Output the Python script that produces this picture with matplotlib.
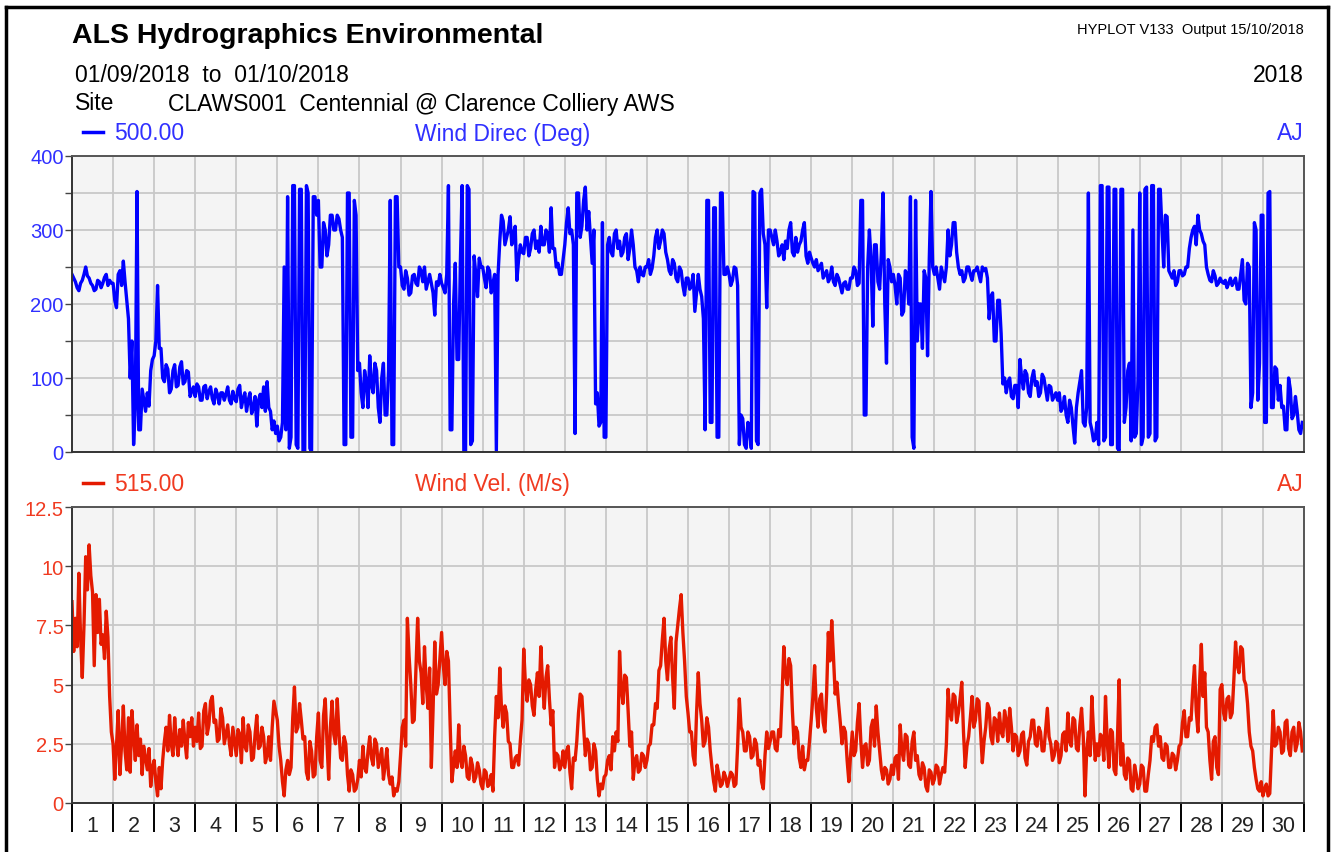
import numpy as np
import matplotlib
matplotlib.use('Agg')
import matplotlib.pyplot as plt
from matplotlib.lines import Line2D

plt.rcParams['font.family'] = ['Liberation Sans', 'DejaVu Sans']

# hourly readings, one row per day (01/09/2018 .. 30/09/2018)
wind_dir = [
    [240, 235, 230, 222, 218, 228, 232, 240, 250, 238, 235, 228, 225, 218, 220, 232, 230, 222, 228, 236, 240, 225, 232, 228],
    [228, 205, 195, 240, 245, 225, 258, 230, 205, 180, 100, 150, 10, 60, 352, 30, 30, 85, 70, 55, 80, 62, 110, 125],
    [130, 150, 225, 140, 140, 100, 95, 118, 112, 80, 85, 110, 118, 88, 90, 115, 122, 92, 95, 110, 108, 75, 82, 88],
    [75, 92, 88, 70, 70, 88, 90, 72, 82, 88, 72, 65, 85, 78, 65, 80, 80, 70, 78, 88, 70, 65, 82, 72],
    [68, 85, 90, 60, 72, 80, 55, 70, 80, 52, 60, 75, 35, 70, 78, 60, 88, 55, 95, 60, 55, 30, 42, 25],
    [35, 15, 20, 40, 250, 30, 345, 5, 20, 360, 360, 10, 5, 355, 355, 0, 0, 360, 350, 5, 0, 345, 345, 320],
    [340, 250, 250, 310, 300, 265, 280, 320, 320, 300, 300, 320, 315, 300, 290, 10, 10, 350, 350, 20, 20, 340, 320, 110],
    [120, 80, 60, 110, 95, 60, 130, 90, 80, 120, 110, 60, 40, 100, 120, 50, 50, 110, 340, 10, 10, 345, 345, 250],
    [250, 225, 220, 245, 235, 212, 215, 238, 240, 228, 225, 250, 245, 230, 250, 220, 230, 240, 228, 215, 185, 230, 225, 240],
    [228, 222, 215, 240, 360, 30, 30, 200, 255, 125, 125, 260, 360, 0, 0, 360, 355, 10, 15, 265, 240, 210, 262, 250],
    [250, 235, 222, 250, 245, 215, 228, 240, 2, 240, 285, 320, 312, 280, 290, 300, 318, 280, 295, 305, 232, 260, 280, 270],
    [268, 290, 290, 265, 275, 295, 300, 275, 285, 270, 305, 280, 280, 300, 295, 270, 330, 275, 275, 250, 255, 240, 240, 260],
    [280, 310, 330, 295, 300, 280, 25, 350, 350, 290, 305, 340, 358, 300, 325, 290, 255, 300, 65, 80, 35, 40, 310, 20],
    [20, 280, 290, 270, 265, 295, 300, 275, 285, 265, 270, 290, 295, 260, 275, 300, 280, 250, 245, 230, 250, 240, 238, 250],
    [250, 260, 240, 248, 265, 290, 300, 275, 285, 300, 295, 270, 260, 245, 240, 260, 255, 235, 230, 250, 245, 225, 212, 235],
    [235, 220, 225, 240, 190, 215, 240, 220, 210, 180, 30, 340, 340, 40, 40, 330, 330, 20, 20, 350, 350, 240, 240, 250],
    [240, 225, 232, 250, 248, 225, 10, 50, 45, 10, 5, 40, 30, 5, 352, 350, 15, 10, 350, 355, 295, 280, 195, 300],
    [300, 290, 280, 300, 285, 265, 270, 280, 260, 285, 275, 300, 310, 270, 265, 290, 270, 280, 285, 300, 310, 265, 255, 270],
    [262, 255, 250, 260, 245, 250, 255, 235, 240, 245, 230, 235, 250, 230, 225, 240, 235, 225, 215, 228, 230, 220, 220, 235],
    [235, 250, 245, 225, 228, 340, 340, 50, 50, 250, 300, 260, 170, 280, 280, 230, 220, 270, 350, 200, 120, 260, 250, 230],
    [240, 225, 200, 240, 235, 185, 190, 245, 240, 200, 345, 20, 5, 340, 150, 200, 200, 140, 245, 235, 130, 260, 352, 250],
    [240, 250, 235, 220, 250, 240, 230, 250, 300, 265, 280, 310, 310, 270, 250, 240, 245, 230, 235, 250, 250, 240, 232, 245],
    [245, 250, 240, 230, 250, 245, 248, 235, 180, 210, 215, 150, 150, 205, 205, 160, 92, 100, 80, 95, 100, 75, 72, 90],
    [90, 60, 125, 100, 85, 110, 105, 80, 75, 100, 110, 90, 95, 75, 80, 105, 100, 85, 70, 90, 88, 70, 75, 80],
    [70, 80, 55, 60, 75, 50, 40, 70, 60, 35, 12, 60, 80, 95, 110, 40, 35, 60, 350, 40, 30, 15, 18, 40],
    [10, 360, 360, 15, 20, 358, 358, 10, 10, 355, 355, 5, 2, 355, 355, 40, 60, 110, 120, 15, 300, 20, 25, 100],
    [350, 10, 20, 355, 358, 20, 25, 360, 360, 15, 20, 355, 355, 300, 250, 320, 318, 245, 240, 235, 245, 225, 230, 245],
    [245, 238, 240, 250, 250, 275, 290, 300, 305, 280, 320, 300, 295, 285, 280, 250, 240, 232, 230, 245, 238, 225, 228, 235],
    [230, 228, 232, 222, 228, 235, 225, 230, 235, 220, 220, 240, 260, 205, 200, 255, 250, 60, 80, 310, 300, 70, 120, 320],
    [320, 40, 40, 350, 352, 60, 60, 115, 112, 70, 90, 60, 62, 30, 30, 100, 85, 45, 50, 75, 55, 30, 25, 40],
]

wind_vel = [
    [8.5, 6.4, 7.8, 6.6, 9.7, 7.0, 5.3, 7.5, 10.4, 9.0, 10.9, 9.6, 8.9, 5.8, 8.8, 7.2, 8.6, 6.7, 7.1, 6.1, 8.1, 7.0, 4.5, 3.0],
    [2.5, 1.0, 2.4, 3.9, 1.2, 2.5, 4.1, 2.2, 1.4, 3.6, 1.3, 3.9, 2.8, 1.8, 3.3, 2.0, 2.7, 1.2, 2.4, 1.9, 1.4, 2.3, 0.7, 1.5],
    [1.8, 0.9, 0.3, 1.5, 0.6, 1.8, 2.6, 3.2, 2.2, 3.7, 2.5, 2.0, 3.6, 2.6, 2.0, 3.1, 2.4, 3.5, 2.6, 1.9, 3.4, 2.8, 3.6, 2.4],
    [3.2, 2.6, 3.8, 2.3, 2.4, 3.9, 4.2, 2.9, 3.3, 4.3, 4.5, 3.4, 3.5, 2.6, 2.7, 4.0, 3.6, 2.5, 2.9, 3.3, 2.5, 2.0, 3.2, 2.6],
    [2.0, 3.1, 2.9, 1.7, 3.6, 2.4, 2.2, 3.3, 3.0, 1.8, 1.9, 2.9, 3.7, 2.3, 2.4, 3.2, 2.8, 1.7, 2.0, 2.8, 1.8, 3.2, 4.3, 3.9],
    [3.5, 2.4, 1.8, 0.9, 0.3, 1.4, 1.8, 1.2, 1.5, 3.6, 4.9, 3.0, 3.2, 4.2, 3.5, 2.7, 2.8, 1.3, 1.0, 2.6, 2.2, 1.1, 1.2, 2.8],
    [3.8, 1.8, 1.5, 3.7, 4.4, 2.6, 1.0, 3.2, 4.3, 2.9, 2.5, 4.4, 3.0, 1.9, 1.8, 2.8, 2.5, 1.2, 0.5, 1.4, 1.2, 0.5, 0.6, 1.0],
    [1.8, 1.1, 2.4, 1.5, 1.3, 2.2, 2.8, 1.9, 1.6, 2.7, 2.5, 1.5, 1.9, 2.3, 1.0, 1.6, 2.3, 1.2, 0.8, 1.1, 0.3, 0.6, 0.5, 0.9],
    [2.0, 3.2, 3.5, 2.4, 7.8, 6.2, 5.0, 3.4, 3.5, 5.6, 7.8, 6.0, 5.5, 4.2, 6.6, 5.0, 4.0, 5.7, 1.5, 3.9, 6.8, 4.6, 5.0, 6.1],
    [7.2, 5.8, 5.0, 6.4, 6.0, 3.3, 0.9, 1.6, 2.2, 1.5, 3.3, 1.8, 1.5, 2.4, 2.0, 1.1, 1.0, 1.9, 1.6, 0.9, 1.1, 1.7, 1.4, 0.8],
    [0.6, 1.4, 1.3, 0.7, 0.8, 1.2, 0.5, 2.8, 4.5, 3.6, 5.7, 4.0, 3.2, 4.1, 3.8, 2.6, 2.5, 1.5, 1.5, 1.9, 2.0, 1.6, 2.6, 3.5],
    [6.5, 5.0, 4.3, 5.2, 5.0, 4.1, 3.7, 4.8, 5.5, 4.5, 6.6, 5.0, 4.0, 5.3, 5.8, 4.4, 3.3, 3.9, 1.5, 2.1, 2.0, 1.4, 1.6, 2.2],
    [1.5, 2.2, 2.4, 1.3, 0.6, 1.9, 1.8, 2.6, 3.8, 4.6, 4.5, 3.2, 2.0, 2.7, 2.5, 1.4, 1.5, 2.5, 2.2, 1.0, 0.3, 0.8, 0.6, 1.1],
    [1.2, 1.8, 2.0, 1.4, 2.8, 2.2, 3.0, 2.6, 6.4, 4.8, 4.2, 5.4, 5.3, 3.9, 2.4, 3.0, 1.0, 1.8, 2.0, 1.3, 1.4, 2.1, 2.0, 1.5],
    [1.8, 2.4, 2.5, 3.3, 3.3, 4.2, 4.0, 5.6, 5.8, 6.9, 7.8, 6.0, 5.2, 6.5, 7.0, 5.3, 4.0, 6.8, 7.5, 8.2, 8.8, 7.2, 6.0, 4.5],
    [3.8, 3.0, 3.0, 2.0, 1.6, 3.8, 5.5, 4.2, 3.5, 2.4, 2.6, 3.6, 3.2, 2.2, 1.5, 0.9, 0.5, 1.6, 1.2, 0.7, 0.8, 1.3, 1.1, 0.7],
    [1.0, 1.3, 1.2, 0.7, 0.8, 2.4, 4.4, 3.2, 3.0, 2.2, 2.2, 3.0, 2.8, 1.9, 2.0, 2.7, 2.5, 1.6, 1.8, 0.9, 0.6, 2.0, 3.0, 2.3],
    [2.6, 3.0, 3.0, 2.3, 2.2, 3.1, 2.8, 4.6, 6.6, 5.4, 5.0, 6.1, 5.8, 3.9, 2.5, 3.2, 3.0, 1.9, 1.5, 2.4, 1.4, 1.8, 1.8, 2.6],
    [3.5, 4.5, 5.8, 4.0, 3.2, 4.4, 4.6, 3.4, 3.0, 4.6, 7.2, 6.0, 7.7, 6.2, 4.6, 5.1, 4.2, 3.4, 2.5, 3.2, 3.0, 1.8, 0.9, 2.0],
    [3.0, 2.0, 2.2, 3.4, 4.2, 2.6, 1.5, 2.4, 2.5, 1.6, 1.8, 3.2, 3.5, 2.4, 4.1, 3.0, 2.2, 1.4, 1.0, 1.5, 1.4, 0.8, 1.0, 1.6],
    [1.2, 1.9, 2.0, 1.0, 3.3, 2.2, 1.8, 2.9, 2.8, 1.6, 1.5, 2.6, 3.0, 1.8, 2.0, 1.2, 1.0, 1.7, 1.5, 0.7, 0.5, 1.4, 1.3, 0.8],
    [1.0, 1.6, 1.5, 0.8, 1.2, 1.5, 1.3, 2.5, 4.8, 3.8, 3.5, 4.6, 4.5, 3.4, 3.8, 4.4, 5.1, 3.0, 1.5, 2.4, 2.8, 3.6, 4.5, 3.2],
    [3.5, 4.4, 4.3, 3.0, 1.7, 2.6, 3.2, 4.2, 4.0, 2.8, 2.5, 3.6, 3.5, 2.6, 3.8, 3.0, 2.8, 3.9, 3.5, 2.6, 4.0, 3.2, 2.2, 2.9],
    [2.8, 2.0, 2.2, 2.9, 3.0, 1.9, 1.6, 2.6, 2.8, 3.5, 3.5, 2.5, 2.4, 3.2, 3.0, 2.2, 2.2, 3.1, 4.0, 2.8, 2.5, 1.8, 2.0, 2.6],
    [2.5, 1.7, 2.0, 2.9, 3.0, 2.2, 3.8, 2.6, 2.4, 3.6, 3.5, 2.3, 2.2, 3.3, 4.0, 2.8, 0.3, 2.2, 3.0, 2.0, 4.5, 3.0, 1.8, 2.5],
    [2.0, 2.9, 2.8, 1.8, 4.5, 2.6, 1.5, 3.1, 3.0, 1.4, 1.2, 2.8, 5.2, 1.6, 2.5, 1.2, 1.0, 1.9, 1.8, 0.6, 0.5, 1.6, 1.2, 0.6],
    [0.8, 1.6, 1.5, 0.5, 0.5, 1.2, 1.8, 2.8, 2.6, 3.2, 3.3, 2.4, 2.8, 1.9, 1.8, 2.5, 2.4, 1.5, 1.5, 2.1, 2.0, 1.4, 1.8, 2.4],
    [2.5, 3.4, 3.9, 2.8, 2.8, 3.6, 3.5, 4.8, 5.8, 3.9, 3.0, 5.1, 6.7, 4.5, 5.5, 3.2, 3.0, 1.8, 1.0, 2.6, 2.8, 1.5, 1.2, 4.8],
    [5.0, 3.8, 3.5, 4.4, 4.5, 3.6, 3.8, 5.2, 6.8, 5.8, 5.5, 6.6, 6.5, 5.2, 5.0, 4.2, 3.0, 2.4, 2.2, 1.5, 1.0, 0.6, 0.5, 0.9],
    [0.3, 0.6, 0.8, 0.3, 0.4, 2.2, 3.9, 2.4, 2.5, 3.2, 3.0, 2.1, 2.2, 3.4, 3.5, 2.3, 2.0, 3.0, 3.2, 2.2, 2.5, 3.4, 3.0, 2.2],
]

day_labels = [str(d) for d in range(1, 31)]
dir_ticks = [0, 100, 200, 300, 400]
vel_ticks = [0, 2.5, 5, 7.5, 10, 12.5]
vel_tick_labels = ['0', '2.5', '5', '7.5', '10', '12.5']

blue = '#0000ff'
blue_txt = '#3030ff'
red = '#e41a00'
red_txt = '#f03a20'
bg = '#f4f4f4'
grid_col = '#c8c8c8'

dir_vals = np.array(wind_dir, dtype=float).ravel()
vel_vals = np.array(wind_vel, dtype=float).ravel()
t = np.arange(len(dir_vals)) / 24.0  # days since 01/09

W, H = 1335, 853
fig = plt.figure(figsize=(W / 100, H / 100), dpi=100)


def fx(x):
    return x / W


def fy(y):
    return 1 - y / H


ax1 = fig.add_axes([fx(72), fy(453), 1232 / W, 296 / H])
ax2 = fig.add_axes([fx(72), fy(804), 1232 / W, 296 / H])

for ax in (ax1, ax2):
    ax.set_facecolor(bg)
    ax.set_xlim(0, 30)
    ax.set_xticks(range(31))
    ax.set_axisbelow(True)
    ax.grid(True, axis='x', which='major', color=grid_col, lw=1.3)
    ax.grid(True, axis='y', which='both', color=grid_col, lw=1.3)
    ax.spines['top'].set_color('#555555')
    ax.spines['right'].set_color('#555555')
    ax.spines['left'].set_color('#333333')
    ax.spines['bottom'].set_color('#333333')
    for s in ax.spines.values():
        s.set_linewidth(1.4)

# wind direction panel
ax1.plot(t, dir_vals, color=blue, lw=2.4)
ax1.set_ylim(0, 400)
ax1.set_yticks(dir_ticks)
ax1.set_yticks([50, 150, 250, 350], minor=True)
ax1.tick_params(axis='y', which='both', direction='out', length=5, width=1,
                color='#444444', labelcolor=blue_txt, labelsize=14.5, pad=1)
ax1.tick_params(axis='x', which='both', length=0, labelbottom=False)

# wind velocity panel
ax2.plot(t, vel_vals, color=red, lw=2.4)
ax2.set_ylim(0, 12.5)
ax2.set_yticks(vel_ticks)
ax2.set_yticklabels(vel_tick_labels)
ax2.tick_params(axis='y', direction='out', length=5, width=1,
                color='#444444', labelcolor=red_txt, labelsize=14.5, pad=1)
ax2.set_xticks(np.arange(0.5, 30, 1), minor=True)
ax2.set_xticklabels(day_labels, minor=True)
ax2.tick_params(axis='x', which='major', direction='out', length=21, width=1.4,
                color='black', labelbottom=False)
ax2.tick_params(axis='x', which='minor', length=0, labelsize=15.5, pad=9,
                labelcolor='#222222')

# header text
fig.text(fx(72), fy(36), 'ALS Hydrographics Environmental', fontsize=20.5,
         fontweight='bold', va='center')
fig.text(fx(1304), fy(30), 'HYPLOT V133  Output 15/10/2018', fontsize=10.5,
         ha='right', va='center')
fig.text(fx(75), fy(75), '01/09/2018  to  01/10/2018', fontsize=16.5, va='center')
fig.text(fx(1304), fy(75), '2018', fontsize=16.5, ha='right', va='center')
fig.text(fx(75), fy(104), 'Site', fontsize=16.5, va='center')
fig.text(fx(168), fy(104), 'CLAWS001  Centennial @ Clarence Colliery AWS',
         fontsize=16.5, va='center')

# series captions
fig.add_artist(Line2D([fx(83), fx(103)], [fy(133), fy(133)], color=blue, lw=2.5))
fig.text(fx(114), fy(134), '500.00', fontsize=16.5, color=blue_txt, va='center')
fig.text(fx(415), fy(134), 'Wind Direc (Deg)', fontsize=16.5, color=blue_txt, va='center')
fig.text(fx(1304), fy(134), 'AJ', fontsize=16.5, color=blue_txt, ha='right', va='center')

fig.add_artist(Line2D([fx(83), fx(103)], [fy(484), fy(484)], color=red, lw=2.5))
fig.text(fx(114), fy(485), '515.00', fontsize=16.5, color=red_txt, va='center')
fig.text(fx(415), fy(485), 'Wind Vel. (M/s)', fontsize=16.5, color=red_txt, va='center')
fig.text(fx(1304), fy(485), 'AJ', fontsize=16.5, color=red_txt, ha='right', va='center')

# page frame
fig.add_artist(Line2D([fx(6), fx(6)], [0, fy(8)], color='black', lw=2.5))
fig.add_artist(Line2D([fx(6), fx(1328)], [fy(8), fy(8)], color='black', lw=2.5))
fig.add_artist(Line2D([fx(1328), fx(1328)], [fy(8), 0], color='black', lw=2.5))

fig.savefig('out.png', dpi=100)
